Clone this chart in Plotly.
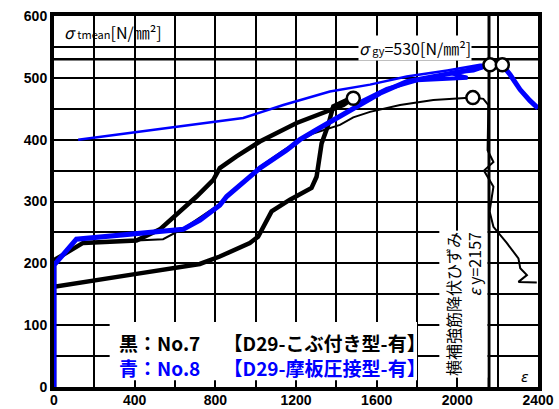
import plotly.graph_objects as go

# ---- data (strain x 1e-6, stress N/mm2) ----
# No.7 (black) thick lower branch
b7a_x = [0, 0, 409, 723, 822, 971, 1012, 1079, 1170, 1277, 1302, 1327, 1360, 1385, 1451, 1484]
b7a_y = [0, 162, 183, 199, 211, 233, 243, 284, 303, 322, 340, 394, 424, 454, 464, 467]
# No.7 (black) thick upper branch
b7b_x = [0, 0, 144, 409, 525, 707, 790, 822, 905, 1021, 1203, 1368, 1435, 1484]
b7b_y = [162, 205, 233, 237, 255, 308, 335, 354, 373, 397, 427, 448, 456, 467]
# No.7 (black) thin gauge
b7c_x = [409, 541, 640, 822, 1021, 1153, 1285, 1418, 1484, 1567, 1716, 1881, 2077, 2129, 2154,
         2150, 2179, 2132, 2179, 2160, 2179, 2245, 2303, 2312, 2345, 2303, 2394]
b7c_y = [237, 239, 256, 296, 356, 386, 410, 424, 436, 445, 456, 464, 468, 466, 456,
         383, 364, 350, 324, 284, 259, 233, 208, 192, 181, 170, 169]
# No.8 (blue) thick main
b8a_x = [0, 0, 111, 475, 640, 724, 822, 856, 1021, 1153, 1219, 1302, 1418, 1550, 1616, 1749,
         1914, 2047, 2162, 2223, 2262, 2311, 2360, 2400]
b8a_y = [0, 197, 239, 251, 255, 270, 294, 308, 354, 383, 400, 416, 437, 462, 475, 494,
         503, 512, 521, 521, 505, 481, 463, 451]
# No.8 (blue) thick loop
b8b_x = [1500, 1650, 1800, 1900, 2050, 1964, 2080, 2162]
b8b_y = [458, 482, 496, 497, 500, 508, 512, 521]
# No.8 (blue) thin gauge
b8c_x = [120, 624, 938, 1137, 1368, 1567, 1749, 1950, 2113, 2162]
b8c_y = [400, 421, 435, 456, 478, 489, 502, 512, 521, 521]
# markers (circles)
mk_x = [1484, 2077, 2162, 2223]
mk_y = [467, 468, 521, 521]

sigma_gy = 530
eps_y = 2157
x_ticks = [0, 400, 800, 1200, 1600, 2000, 2400]
y_ticks = [0, 100, 200, 300, 400, 500, 600]

fig = go.Figure()
BLUE = "#0000FF"
fig.add_trace(go.Scatter(x=b8c_x, y=b8c_y, mode="lines", line=dict(color=BLUE, width=2.5)))
fig.add_trace(go.Scatter(x=b7c_x, y=b7c_y, mode="lines", line=dict(color="black", width=2)))
fig.add_trace(go.Scatter(x=b7a_x, y=b7a_y, mode="lines", line=dict(color="black", width=4.5)))
fig.add_trace(go.Scatter(x=b7b_x, y=b7b_y, mode="lines", line=dict(color="black", width=4.5)))
fig.add_trace(go.Scatter(x=b8b_x, y=b8b_y, mode="lines", line=dict(color=BLUE, width=4)))
fig.add_trace(go.Scatter(x=b8a_x, y=b8a_y, mode="lines", line=dict(color=BLUE, width=5)))
fig.add_trace(go.Scatter(x=mk_x, y=mk_y, mode="markers",
                         marker=dict(size=13, color="white", line=dict(color="black", width=2.5))))

fig.add_shape(type="line", x0=0, x1=2400, y0=sigma_gy, y1=sigma_gy,
              line=dict(color="black", width=2.5), layer="between")
fig.add_shape(type="line", x0=eps_y, x1=eps_y, y0=0, y1=600,
              line=dict(color="black", width=3), layer="between")
fig.add_shape(type="rect", x0=276, x1=1800, y0=11, y1=105,
              fillcolor="white", line=dict(width=0), layer="between")

CJK = "Noto Sans CJK JP"
fig.add_annotation(x=38, y=574, xanchor="left", yanchor="middle", showarrow=False,
                   text="<i>σ</i> <span style='font-size:11px'>tmean</span>[N/㎜²]",
                   font=dict(family=CJK, size=16, color="black"))
fig.add_annotation(x=1790, y=549, xanchor="center", yanchor="middle", showarrow=False,
                   text="<i>σ</i> <span style='font-size:11px'>gy</span>=530[N/㎜²]",
                   font=dict(family=CJK, size=16, color="black"), bgcolor="white", borderpad=0)
fig.add_annotation(x=2335, y=16, xanchor="center", yanchor="middle", showarrow=False,
                   text="<i>ε</i>", font=dict(family="DejaVu Sans", size=14, color="black"))
fig.add_annotation(x=2028, y=134, xanchor="center", yanchor="middle", showarrow=False,
                   textangle=-90, align="right",
                   text="横補強筋降伏ひずみ<br><i>ε</i> y=2157",
                   font=dict(family=CJK, size=16, color="black"), bgcolor="white", borderpad=1)

fig.add_annotation(x=312, y=52, xanchor="left", yanchor="middle", showarrow=False, align="left",
                   text=("<b>黒：No.7　 【D29-こぶ付き型-有】</b><br>"
                         "<b><span style='color:#0000FF'>青：No.8　 【D29-摩板圧接型-有】</span></b>"),
                   font=dict(family=CJK, size=19, color="black"))

tickfont = dict(family="Liberation Sans", size=14, color="black", weight="bold")
fig.update_xaxes(range=[0, 2400], tickvals=x_ticks, ticks="", showgrid=True,
                 gridcolor="black", gridwidth=1.5, zeroline=False, automargin=False,
                 ticklabelstandoff=-3,
                 minor=dict(dtick=200, tick0=0, showgrid=True, gridcolor="black", gridwidth=1.5),
                 showline=True, linecolor="black", linewidth=4, mirror=True,
                 tickfont=tickfont)
fig.update_yaxes(range=[0, 600], tickvals=y_ticks, ticks="", showgrid=True,
                 gridcolor="black", gridwidth=1.5, zeroline=False, automargin=False,
                 minor=dict(dtick=50, tick0=0, showgrid=True, gridcolor="black", gridwidth=1.5),
                 showline=True, linecolor="black", linewidth=4, mirror=True,
                 tickfont=tickfont)
fig.update_layout(width=559, height=409, margin=dict(l=54, r=21, t=16, b=22),
                  paper_bgcolor="white", plot_bgcolor="white", showlegend=False)
fig.write_html("out.html")
